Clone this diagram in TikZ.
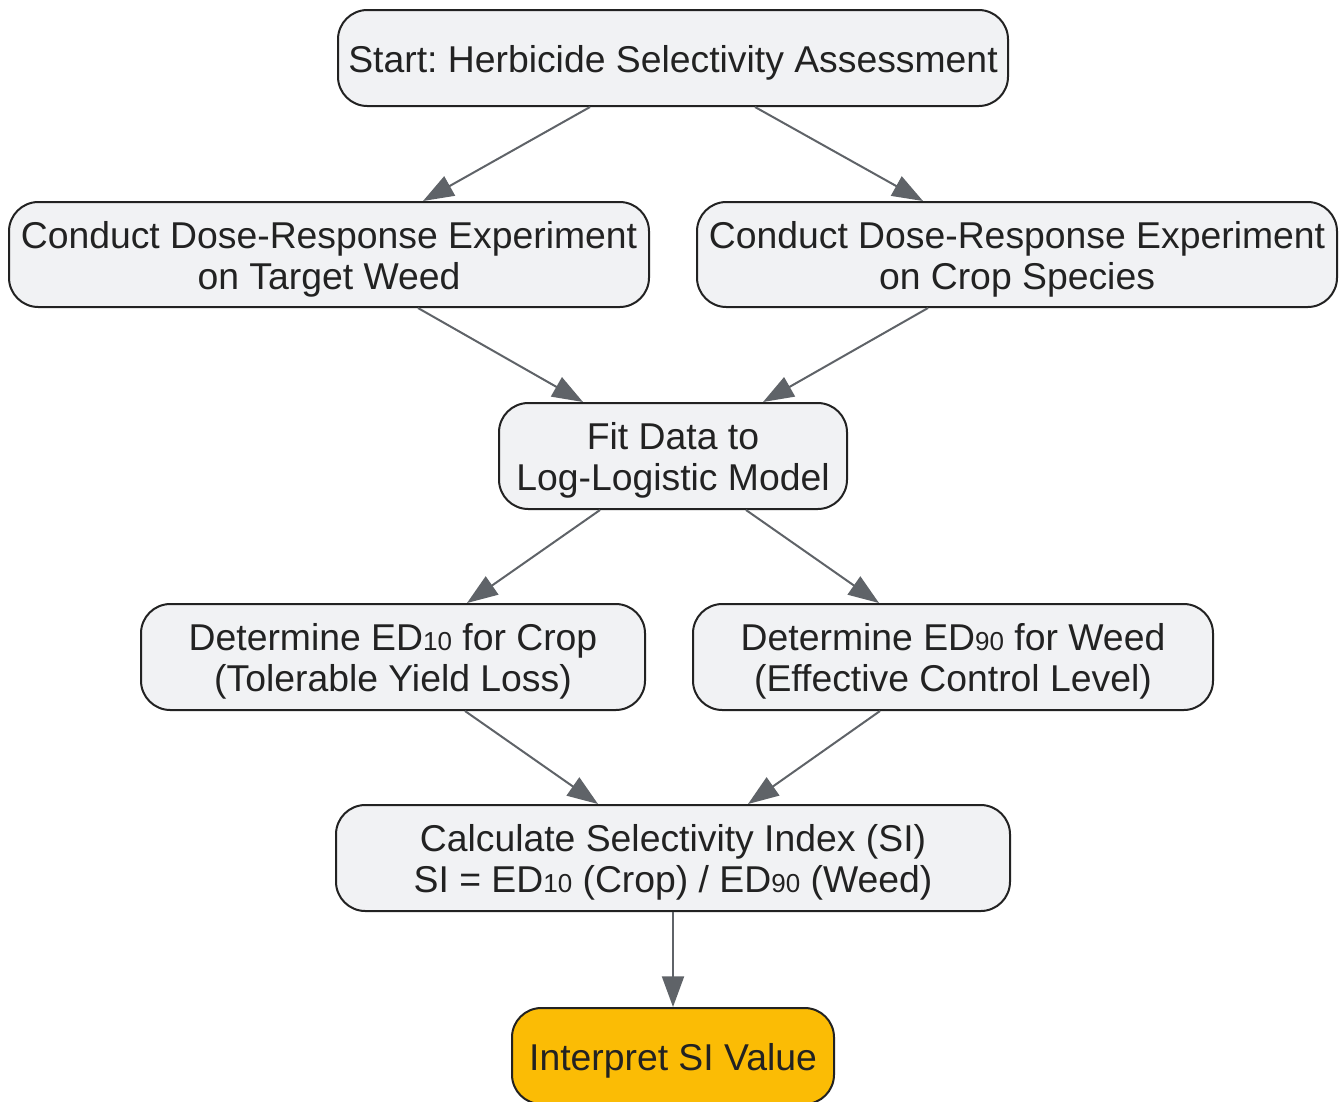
\documentclass[tikz,border=0pt]{standalone}
\usepackage{fontspec}
\setmainfont{Liberation Sans}
\usetikzlibrary{arrows.meta}
\definecolor{boxfill}{HTML}{F1F2F4}
\definecolor{boxline}{HTML}{222222}
\definecolor{arrowcol}{HTML}{5F6368}
\definecolor{goldfill}{HTML}{FBBC05}
\definecolor{txt}{HTML}{222222}
\newcommand{\subd}[1]{{\fontsize{19.5}{19.5}\selectfont #1}}
\newcommand{\dn}[1]{\raisebox{-3.4pt}[\height][\depth]{#1}}
\frenchspacing
\begin{document}
\begin{tikzpicture}[x=0.75pt,y=-0.75pt,
  box/.style={draw=boxline, fill=boxfill, line width=1.5pt, rounded corners=22pt,
    align=center, text=txt, inner sep=0pt,
    font=\fontsize{28}{30.75}\selectfont},
  goldbox/.style={box, fill=goldfill},
  conn/.style={draw=arrowcol, line width=1.5pt, -{Triangle[length=23pt,width=16.5pt]}}]
\useasboundingbox (0,0) rectangle (1342,1101);
\node[box, minimum width=502.5pt, minimum height=72pt] (start) at (673,58) {\dn{Start: Herbicide Selectivity Assessment}};
\node[box, minimum width=480pt, minimum height=78.75pt] (weed) at (329,254.5) {\dn{Conduct Dose-Response Experiment}\\\dn{on Target Weed}};
\node[box, minimum width=480pt, minimum height=78.75pt] (crop) at (1017,254.5) {\dn{Conduct Dose-Response Experiment}\\\dn{on Crop Species}};
\node[box, minimum width=261pt, minimum height=79.5pt] (fit) at (673,456) {\dn{Fit Data to}\\\dn{Log-Logistic Model}};
\node[box, minimum width=378pt, minimum height=79.5pt] (ed10) at (393,657) {\dn{Determine ED\subd{10} for Crop}\\\dn{(Tolerable Yield Loss)}};
\node[box, minimum width=390pt, minimum height=79.5pt] (ed90) at (953,657) {\dn{Determine ED\subd{90} for Weed}\\\dn{(Effective Control Level)}};
\node[box, minimum width=505.5pt, minimum height=79.5pt] (si) at (673,858) {\dn{Calculate Selectivity Index (SI)}\\\dn{SI = ED\subd{10} (Crop) / ED\subd{90} (Weed)}};
\node[goldbox, minimum width=241.5pt, minimum height=72pt] (interp) at (673,1056) {\dn{Interpret SI Value}};
\draw[conn] (start.south -| 590,0) -- (weed.north -| 423,0);
\draw[conn] (start.south -| 755,0) -- (crop.north -| 923,0);
\draw[conn] (weed.south -| 418,0) -- (fit.north -| 583,0);
\draw[conn] (crop.south -| 928,0) -- (fit.north -| 763,0);
\draw[conn] (fit.south -| 600,0) -- (ed10.north -| 467,0);
\draw[conn] (fit.south -| 746,0) -- (ed90.north -| 879,0);
\draw[conn] (ed10.south -| 465,0) -- (si.north -| 598,0);
\draw[conn] (ed90.south -| 880,0) -- (si.north -| 748,0);
\draw[conn] (si) -- (interp);
\end{tikzpicture}
\end{document}
